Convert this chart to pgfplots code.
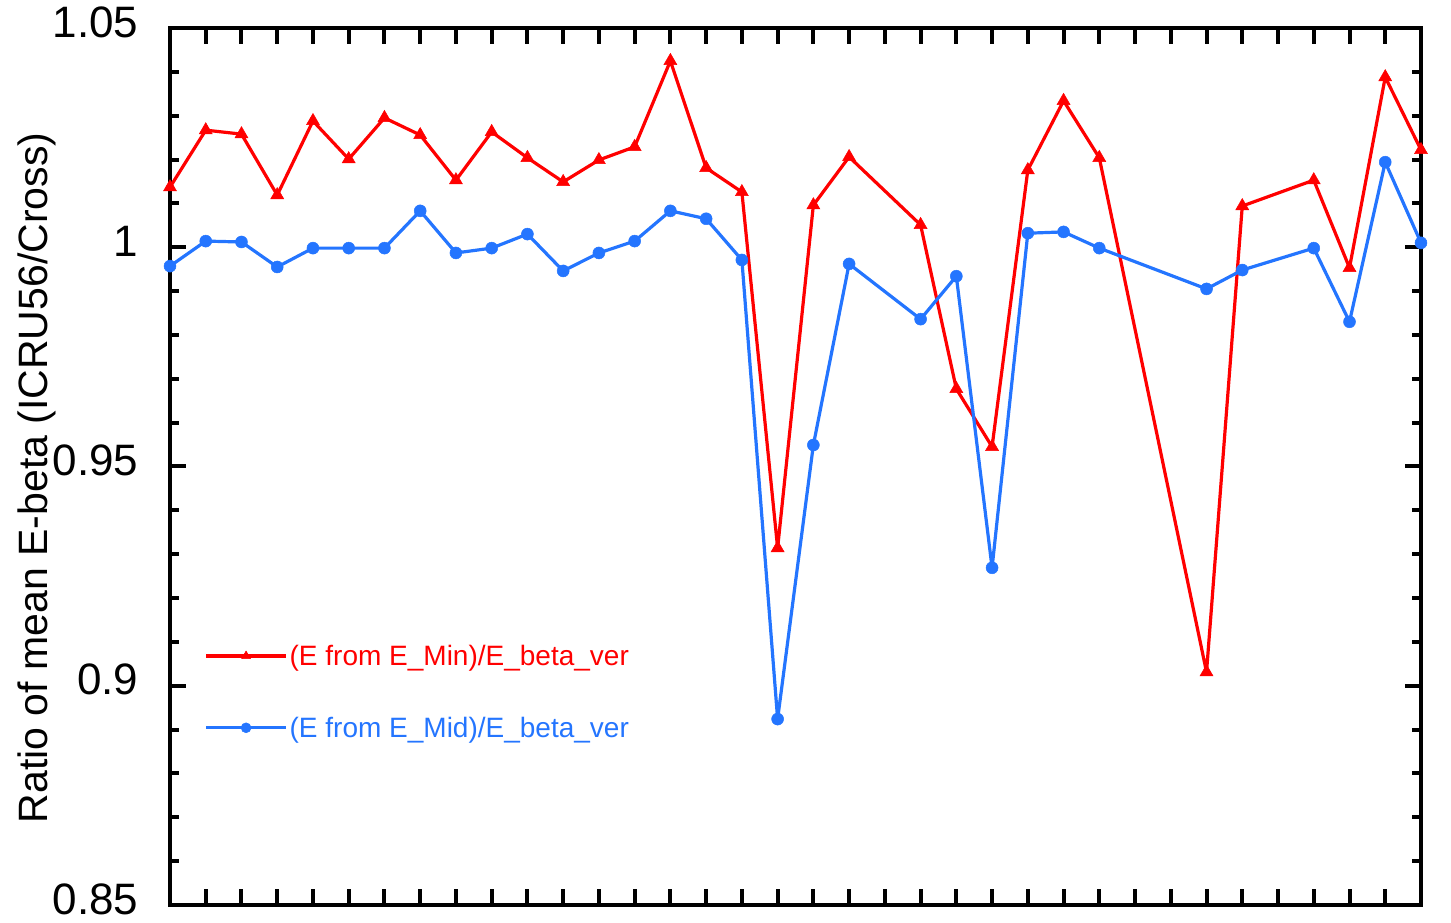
\documentclass[border=0pt]{standalone}
\usepackage{fontspec}
\setmainfont{Liberation Sans}
\usepackage{pgfplots}
\usepackage{pgfplotstable}
\pgfplotsset{compat=1.18}
\definecolor{cred}{RGB}{255,0,0}
\definecolor{cblue}{RGB}{36,117,255}

\pgfplotstableread{
x y
0 1.0137
1 1.0267
2 1.0258
3 1.0119
4 1.0288
5 1.0201
6 1.0295
7 1.0256
8 1.0153
9 1.0263
10 1.0204
11 1.0149
12 1.0199
13 1.0229
14 1.0425
15 1.0181
16 1.0126
17 0.9314
18 1.0096
19 1.0206
21 1.0051
22 0.9677
23 0.9545
24 1.0176
25 1.0334
26 1.0204
29 0.9031
30 1.0094
32 1.0153
33 0.9953
34 1.0388
35 1.0222
}\redtable

\pgfplotstableread{
x y
0 0.9957
1 1.0014
2 1.0012
3 0.9955
4 0.9998
5 0.9998
6 0.9998
7 1.0083
8 0.9987
9 0.9998
10 1.0030
11 0.9946
12 0.9987
13 1.0014
14 1.0083
15 1.0065
16 0.9971
17 0.8924
18 0.9549
19 0.9962
21 0.9836
22 0.9934
23 0.9269
24 1.0032
25 1.0035
26 0.9998
29 0.9905
30 0.9948
32 0.9998
33 0.9830
34 1.0194
35 1.0010
}\bluetable

\begin{document}
\begin{tikzpicture}
\useasboundingbox (0,0) rectangle (1451pt,922pt);
\begin{axis}[
  at={(170pt,17pt)}, anchor=south west,
  width=1251pt, height=877pt, scale only axis,
  xmin=0, xmax=35, ymin=0.85, ymax=1.05,
  clip=false,
  xtick={0,...,35}, xticklabels={},
  ytick={0.85,0.9,0.95,1,1.05},
  yticklabels={0.85,0.9,0.95,1,1.05},
  minor y tick num=4,
  tick align=inside,
  major tick length=16pt, minor tick length=9pt,
  tick style={black, line width=4pt},
  axis line style={line width=4.5pt},
  /pgf/number format/assume math mode=true,
  yticklabel style={font=\fontsize{44}{48}\selectfont, xshift=-28pt, yshift=6pt},
  ylabel={Ratio of mean E-beta (ICRU56/Cross)},
  ylabel style={font=\fontsize{41}{45}\selectfont, at={(axis description cs:-0.1063,0.487)}, anchor=center},
  legend style={draw=none, fill=none, at={(axis description cs:0.025,0.243)}, anchor=west,
    font=\fontsize{28}{32}\selectfont, row sep=46pt},
  legend cell align=left,
  legend image code/.code={%
    \draw[mark repeat=2,mark phase=2,#1,mark size=5pt] plot coordinates {(0pt,0pt) (40pt,0pt) (80pt,0pt)};},
]
\addplot[color=cred, line width=3.2pt, line join=round, mark=triangle*, mark size=7.5pt, mark options={solid, line width=0.5pt, line join=miter}] table[x=x,y=y] {\redtable};
\addlegendentry{\textcolor{cred}{(E from E\_Min)/E\_beta\_ver}}
\addplot[color=cblue, line width=3.2pt, line join=round, mark=*, mark size=6pt, mark options={solid, line width=0.5pt}] table[x=x,y=y] {\bluetable};
\addlegendentry{\textcolor{cblue}{(E from E\_Mid)/E\_beta\_ver}}
\end{axis}
\end{tikzpicture}
\end{document}
